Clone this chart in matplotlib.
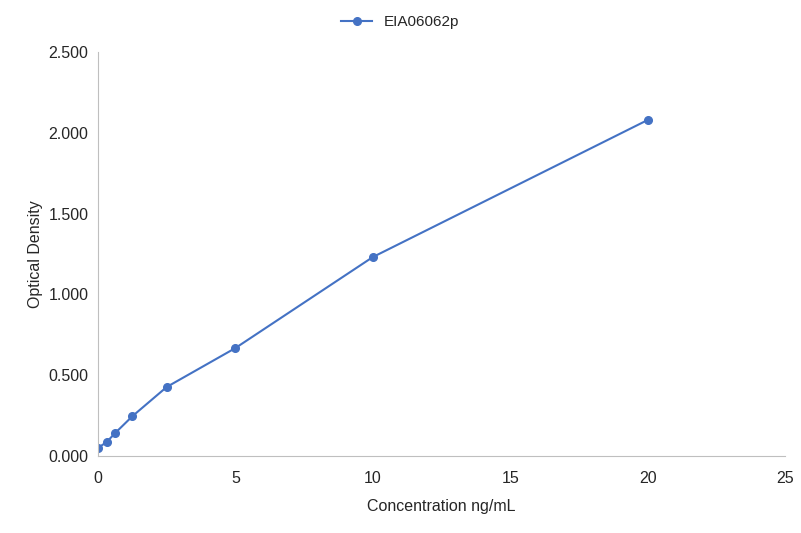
import matplotlib.pyplot as plt
from matplotlib.ticker import FormatStrFormatter

conc = [0, 0.3125, 0.625, 1.25, 2.5, 5, 10, 20]
od = [0.050, 0.086, 0.142, 0.246, 0.427, 0.668, 1.231, 2.079]

plt.rcParams['font.family'] = ['Liberation Sans', 'DejaVu Sans']
txt = '#262626'

fig = plt.figure(figsize=(8.01, 5.33), dpi=100)
ax = fig.add_axes([98/801, 1-456/533, 687/801, 404/533])

ax.plot(conc, od, color='#4472C4', marker='o', markersize=5.5, linewidth=1.5, label='EIA06062p')

ax.set_xlim(0, 25)
ax.set_ylim(0, 2.5)
ax.set_xticks([0, 5, 10, 15, 20, 25])
ax.set_yticks([0, 0.5, 1.0, 1.5, 2.0, 2.5])
ax.yaxis.set_major_formatter(FormatStrFormatter('%.3f'))
ax.tick_params(length=0, labelsize=11.5, colors=txt)
ax.tick_params(axis='x', pad=11)
ax.tick_params(axis='y', pad=7)

for s in ['top', 'right']:
    ax.spines[s].set_visible(False)
for s in ['left', 'bottom']:
    ax.spines[s].set_color('#BFBFBF')

ax.set_xlabel('Concentration ng/mL', fontsize=11.5, color=txt, labelpad=9)
ax.set_ylabel('Optical Density', fontsize=11.5, color=txt, labelpad=4)

fig.legend(loc='center', bbox_to_anchor=(0.5, 1-22/533), frameon=False, fontsize=11,
           labelcolor=txt, handlelength=2)

fig.savefig('out.png', dpi=100)
